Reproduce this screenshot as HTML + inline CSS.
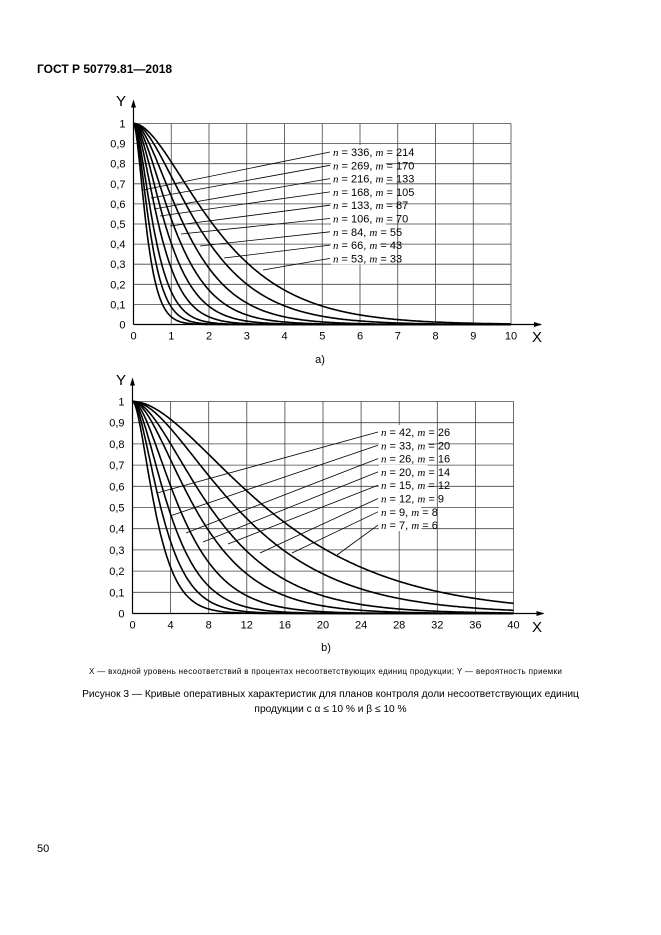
<!DOCTYPE html>
<html><head><meta charset="utf-8"><style>
html,body{margin:0;padding:0;background:#fff;}
body{width:661px;height:935px;position:relative;overflow:hidden;font-family:"Liberation Sans",sans-serif;color:#000;}
.t{position:absolute;white-space:nowrap;}
svg{position:absolute;left:0;top:0;}
</style></head><body>
<div class="t" style="left:37px;top:62px;font-size:12px;font-weight:bold;">ГОСТ Р 50779.81—2018</div>
<svg id="s" width="661" height="935" font-family="Liberation Sans, sans-serif" font-size="11">
<text x="116" y="106" font-size="15">Y</text>
<text x="532" y="342" font-size="15">X</text>
<text x="320" y="363" font-size="11" text-anchor="middle">a)</text>
<text x="116" y="385" font-size="15">Y</text>
<text x="532" y="632" font-size="15">X</text>
<text x="326" y="651" font-size="11" text-anchor="middle">b)</text>
</svg>
<div class="t" style="left:89px;top:667px;font-size:8px;letter-spacing:0.35px;">X — входной уровень несоответствий в процентах несоответствующих единиц продукции; Y — вероятность приемки</div>
<div class="t" style="left:0;width:661px;text-align:center;top:687px;font-size:10.2px;line-height:15px;">Рисунок 3 — Кривые оперативных характеристик для планов контроля доли несоответствующих единиц<br>продукции с α ≤ 10 % и β ≤ 10 %</div>
<div class="t" style="left:37px;top:843px;font-size:11px;">50</div>
<script>
var s=document.getElementById('s'),NS='http://www.w3.org/2000/svg';
function el(t,a,txt){var e=document.createElementNS(NS,t);for(var k in a)e.setAttribute(k,a[k]);if(txt!=null)e.textContent=txt;s.appendChild(e);return e;}
function chart(o){
 var x0=o.x0,y0=o.y0,sx=o.sx,sy=o.sy;
 for(var i=0;i<=10;i++){var x=x0+i*sx;el('line',{x1:x,y1:y0,x2:x,y2:o.yt,stroke:'#444','stroke-width':0.8});
  el('text',{x:x,y:y0+15,'text-anchor':'middle'},String(i*o.xs));}
 for(var j=0;j<=10;j++){var y=y0-j*sy;el('line',{x1:x0,y1:y,x2:x0+10*sx,y2:y,stroke:'#444','stroke-width':0.8});
  el('text',{x:x0-8,y:y+4,'text-anchor':'end'},j==0?'0':j==10?'1':'0,'+j);}
 el('line',{x1:x0,y1:y0,x2:x0,y2:o.yt-22,stroke:'#000','stroke-width':1.2});
 el('line',{x1:x0,y1:y0,x2:x0+10*sx+30,y2:y0,stroke:'#000','stroke-width':1.2});
 el('path',{d:'M'+(x0-2.5)+','+(o.yt-16)+'L'+x0+','+(o.yt-24)+'L'+(x0+2.5)+','+(o.yt-16)+'Z'});
 var xe=x0+10*sx+31;el('path',{d:'M'+(xe-8)+','+(y0-2.5)+'L'+xe+','+y0+'L'+(xe-8)+','+(y0+2.5)+'Z'});
 o.k.forEach(function(k){var d='';for(var p=0;p<=300;p++){var xv=p/300*10*o.xs,l=k*xv,yv=(1+l)*Math.exp(-l);
  d+=(p?'L':'M')+(x0+xv/o.xs*sx).toFixed(1)+','+(y0-yv*10*sy).toFixed(1);}
  el('path',{d:d,fill:'none',stroke:'#000','stroke-width':1.6});});
 o.labels.forEach(function(L,i){var ly=o.ly+i*13.3;
  el('rect',{x:o.lx-2,y:ly-7,width:L[0].length*6.3+36,height:13,fill:'#fff'});
  el('line',{x1:o.lx-3,y1:ly,x2:o.tips[i][0],y2:o.tips[i][1],stroke:'#000','stroke-width':0.8});
  var t=el('text',{x:o.lx,y:ly+4});
  var a=document.createElementNS(NS,'tspan');a.setAttribute('font-style','italic');a.setAttribute('font-family','Liberation Serif, serif');a.textContent='n';t.appendChild(a);
  t.appendChild(document.createTextNode(' = '+L[0]+', '));
  var b=document.createElementNS(NS,'tspan');b.setAttribute('font-style','italic');b.setAttribute('font-family','Liberation Serif, serif');b.textContent='m';t.appendChild(b);
  t.appendChild(document.createTextNode(' = '+L[1]));});
}
var na=[53,66,84,106,133,168,216,269,336];
chart({x0:133.5,y0:324.5,sx:37.75,sy:20.1,yt:123.5,xs:1,k:na.map(function(n){return 0.8*n/53;}),
 lx:333,ly:152,labels:[['336','214'],['269','170'],['216','133'],['168','105'],['133','87'],['106','70'],['84','55'],['66','43'],['53','33']],
 tips:[[143,190],[151,198],[154,209],[160,216],[170,226],[181,234],[200,246],[224,258],[263,270]]});
var nb=[7,9,12,15,20,26,33,42];
chart({x0:132.5,y0:613.5,sx:38.1,sy:21.2,yt:401.5,xs:4,k:nb.map(function(n){return 0.12*n/7;}),
 lx:381,ly:432,labels:[['42','26'],['33','20'],['26','16'],['20','14'],['15','12'],['12','9'],['9','8'],['7','6']],
 tips:[[157,493],[170,516],[186,533],[203,542],[228,544],[260,553],[292,553],[337,555]]});
</script>
</body></html>
